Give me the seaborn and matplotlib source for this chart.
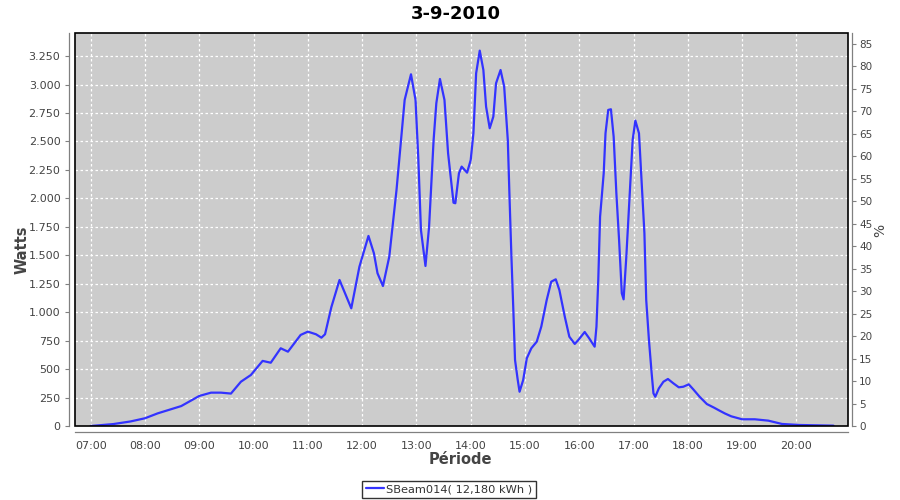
import numpy as np
import pandas as pd
import seaborn as sns
import matplotlib
matplotlib.use("Agg")
import matplotlib.pyplot as plt
import matplotlib.dates as mdates
from matplotlib.ticker import FuncFormatter, MultipleLocator
from matplotlib.patches import Rectangle

# Données (puissance en W)
heures = ["07:00", "07:25", "07:44", "08:00", "08:14", "08:40", "09:00", "09:13", "09:24", "09:35",
          "09:46", "09:57", "10:10", "10:19", "10:30", "10:38", "10:52", "11:00", "11:09", "11:15",
          "11:19", "11:26", "11:35", "11:48", "11:57", "12:07", "12:13", "12:17", "12:23", "12:30",
          "12:38", "12:43", "12:47", "12:54", "12:59", "13:02", "13:05", "13:10", "13:14", "13:19",
          "13:22", "13:26", "13:31", "13:35", "13:41", "13:43", "13:47", "13:50", "13:56", "14:00",
          "14:03", "14:06", "14:10", "14:14", "14:17", "14:21", "14:25", "14:28", "14:33", "14:37",
          "14:41", "14:43", "14:45", "14:47", "14:49", "14:52", "14:54", "14:58", "15:02", "15:07",
          "15:13", "15:18", "15:24", "15:29", "15:34", "15:38", "15:44", "15:49", "15:55", "15:59",
          "16:06", "16:11", "16:17", "16:19", "16:21", "16:23", "16:27", "16:29", "16:32", "16:35",
          "16:38", "16:41", "16:44", "16:47", "16:49", "16:52", "16:56", "16:59", "17:02", "17:06",
          "17:09", "17:12", "17:14", "17:17", "17:20", "17:22", "17:24", "17:28", "17:33", "17:38",
          "17:44", "17:50", "17:55", "18:01", "18:06", "18:13", "18:21", "18:29", "18:35", "18:41",
          "18:48", "19:00", "19:14", "19:29", "19:44", "20:03", "20:41"]
watts = [0, 17, 40, 68, 111, 175, 264, 293, 293, 285,
         389, 448, 572, 556, 683, 653, 800, 829, 806, 776,
         806, 1045, 1283, 1034, 1400, 1670, 1518, 1342, 1230, 1488,
         2074, 2513, 2865, 3090, 2865, 2367, 1722, 1406, 1751, 2513,
         2836, 3049, 2865, 2397, 1962, 1957, 2220, 2279, 2226, 2337,
         2572, 3099, 3298, 3128, 2806, 2616, 2718, 3011, 3128, 2982,
         2513, 1986, 1488, 1048, 580, 404, 301, 404, 595, 683,
         741, 873, 1107, 1268, 1289, 1195, 960, 785, 721, 756,
         826, 770, 697, 873, 1283, 1839, 2220, 2572, 2777, 2783,
         2542, 2045, 1634, 1166, 1113, 1488, 2074, 2513, 2683, 2572,
         2133, 1693, 1107, 756, 463, 287, 257, 331, 389, 413,
         375, 340, 345, 366, 322, 257, 193, 161, 135, 110,
         85, 59, 59, 47, 18, 9, 3]
serie = "SBeam014( 12,180 kWh )"

df = pd.DataFrame({"Heure": pd.to_datetime("2010-09-03 " + pd.Series(heures)), "Watts": watts})

sns.set_theme(style="white")
plt.rcParams['font.family'] = ['DejaVu Sans']

fig = plt.figure(figsize=(9, 5), dpi=100)
ax = fig.add_axes([0.0833, 0.148, 0.8589, 0.786])
ax.set_facecolor("#cccccc")

sns.lineplot(data=df, x="Heure", y="Watts", ax=ax, color="#3333ff", linewidth=1.6, label=serie, legend=False)

ax.set_xlim(pd.Timestamp("2010-09-03 06:42:36"), pd.Timestamp("2010-09-03 20:57:00"))
ax.set_ylim(0, 3453)
ax.yaxis.set_major_locator(MultipleLocator(250))
ax.yaxis.set_major_formatter(FuncFormatter(lambda v, p: f"{v:,.0f}".replace(",", ".")))
ax.xaxis.set_major_locator(mdates.HourLocator())
ax.xaxis.set_major_formatter(mdates.DateFormatter("%H:%M"))
ax.grid(True, color="white", linestyle=(0, (2, 2)), linewidth=0.9)

# axe de droite en %
ax2 = ax.twinx()
ax2.set_ylim(0, 87.4)
ax2.yaxis.set_major_locator(MultipleLocator(5))

gris = "#808080"
for a in (ax, ax2):
    for s in a.spines.values():
        s.set_visible(False)
    a.tick_params(axis="both", direction="out", length=3, width=0.8, color=gris,
                  labelcolor="#444444", labelsize=8)
ax2.tick_params(labelsize=7.5, pad=2)
ax.spines["left"].set_visible(True)
ax.spines["bottom"].set_visible(True)
ax2.spines["right"].set_visible(True)
ax.spines["left"].set_position(("outward", 4))
ax.spines["bottom"].set_position(("outward", 4))
ax2.spines["right"].set_position(("outward", 3))
for s in (ax.spines["left"], ax.spines["bottom"], ax2.spines["right"]):
    s.set_color(gris)
    s.set_linewidth(0.9)

# cadre noir du graphique
ax2.add_patch(Rectangle((0, 0), 1, 1, transform=ax.transAxes, fill=False,
                        edgecolor="black", linewidth=1.2, clip_on=False, zorder=5))

ax.set_xlabel("")
ax.set_ylabel("")
fig.text(0.506, 0.972, "3-9-2010", ha="center", va="center", fontsize=13, fontweight="bold", color="black")
fig.text(0.512, 0.081, "Période", ha="center", va="center", fontsize=10.5, fontweight="bold", color="#444444")
fig.text(0.024, 0.5, "Watts", ha="center", va="center", rotation=90, fontsize=10.5, fontweight="bold", color="#444444")
fig.text(0.978, 0.54, "%", ha="center", va="center", rotation=90, fontsize=10, color="#444444")

handles, labels = ax.get_legend_handles_labels()
leg = fig.legend(handles, labels, loc="lower center", bbox_to_anchor=(0.499, 0.0), frameon=True,
                 fancybox=False, edgecolor="black", fontsize=8.2, handlelength=1.6,
                 handletextpad=0.2, borderpad=0.3, borderaxespad=0.2)
leg.get_frame().set_linewidth(1.0)
for t in leg.get_texts():
    t.set_color("#333333")

fig.savefig("out.png", dpi=100, facecolor="white")
